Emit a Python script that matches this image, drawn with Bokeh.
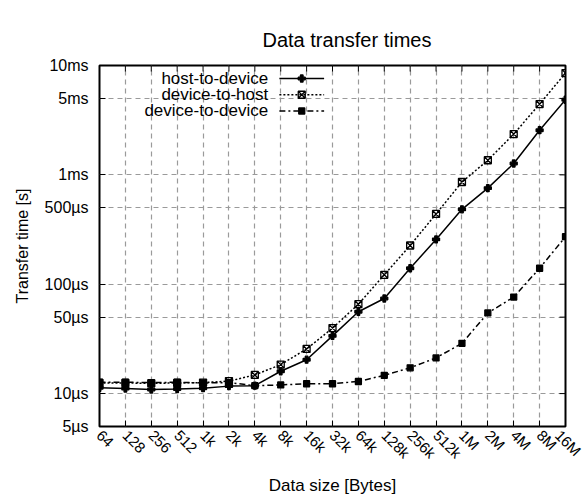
import math
from bokeh.plotting import figure
from bokeh.models import FixedTicker, Label
from bokeh.embed import file_html
from bokeh.resources import INLINE

# ---- data -------------------------------------------------------------
sizes = [64, 128, 256, 512, 1024, 2048, 4096, 8192, 16384, 32768, 65536,
         131072, 262144, 524288, 1048576, 2097152, 4194304, 8388608, 16777216]
size_labels = ["64", "128", "256", "512", "1k", "2k", "4k", "8k", "16k", "32k",
               "64k", "128k", "256k", "512k", "1M", "2M", "4M", "8M", "16M"]

# transfer times in microseconds
host_to_device = [11.3, 11.1, 10.9, 11.0, 11.2, 11.7, 11.8, 16.0, 20.4, 33.7,
                  56.0, 74.0, 140.0, 257.0, 484.0, 756.0, 1270.0, 2560.0, 4860.0]
device_to_host = [12.5, 12.5, 12.4, 12.5, 12.6, 13.0, 14.8, 18.4, 25.6, 39.7,
                  65.7, 122.0, 226.0, 439.0, 860.0, 1360.0, 2360.0, 4440.0, 8530.0]
device_to_device = [12.7, 12.7, 12.6, 12.7, 12.5, 12.6, 11.8, 12.0, 12.3, 12.3,
                    12.9, 14.7, 17.2, 21.2, 28.8, 54.6, 76.3, 140.0, 272.0]

y_ticks = [5, 10, 50, 100, 500, 1000, 5000, 10000]
y_tick_labels = ["5µs", "10µs", "50µs", "100µs", "500µs", "1ms", "5ms", "10ms"]

series_names = ["host-to-device", "device-to-host", "device-to-device"]

FONT = "Liberation Sans"

# ---- figure -----------------------------------------------------------
p = figure(width=584, height=497,
           x_axis_type="log", y_axis_type="log",
           x_range=(sizes[0], sizes[-1]), y_range=(y_ticks[0], y_ticks[-1]),
           output_backend="svg", toolbar_location=None,
           title="Data transfer times",
           min_border_left=99, min_border_right=19,
           min_border_top=65, min_border_bottom=64)

p.background_fill_color = "white"
p.border_fill_color = "white"
p.outline_line_color = "black"
p.outline_line_width = 2

p.title.text_font = FONT
p.title.text_font_size = "20px"
p.title.text_font_style = "normal"
p.title.text_color = "black"
p.title.align = "left"
p.title.offset = 163
p.title.standoff = 30

xax = p.below[0]
xax.ticker = FixedTicker(ticks=sizes, minor_ticks=[])
xax.major_label_overrides = {s: l for s, l in zip(sizes, size_labels)}
xax.major_label_orientation = -math.pi / 4
xax.major_label_text_font = FONT
xax.major_label_text_font_size = "15px"
xax.major_label_text_color = "black"
xax.major_label_standoff = 6
xax.major_tick_in = 6
xax.major_tick_out = 0
xax.axis_line_color = None
xax.axis_label = "Data size [Bytes]"
xax.axis_label_text_font = FONT
xax.axis_label_text_font_size = "17px"
xax.axis_label_text_font_style = "normal"
xax.axis_label_text_color = "black"
xax.axis_label_standoff = 5

yax = p.left[0]
yax.ticker = FixedTicker(ticks=y_ticks, minor_ticks=[])
yax.major_label_overrides = {t: l for t, l in zip(y_ticks, y_tick_labels)}
yax.major_label_text_font = FONT
yax.major_label_text_font_size = "16px"
yax.major_label_text_color = "black"
yax.major_label_standoff = 11
yax.major_tick_in = 6
yax.major_tick_out = 0
yax.axis_line_color = None
yax.axis_label = "Transfer time [s]"
yax.axis_label_text_font = FONT
yax.axis_label_text_font_size = "16px"
yax.axis_label_text_font_style = "normal"
yax.axis_label_text_color = "black"
yax.axis_label_standoff = 11

for g, ticks in ((p.xgrid[0], sizes), (p.ygrid[0], y_ticks)):
    g.ticker = FixedTicker(ticks=ticks, minor_ticks=[])
    g.grid_line_color = "#9a9a9a"
    g.grid_line_dash = "5 4"
    g.grid_line_width = 1.2

# mirror ticks on the top and right border (half of each dash is clipped)
p.scatter(sizes, [y_ticks[-1]] * len(sizes), marker="dash", angle=math.pi / 2,
          size=12, line_color="black", line_width=1)
p.scatter([sizes[-1]] * len(y_ticks), y_ticks, marker="dash",
          size=12, line_color="black", line_width=1)

# ---- series -----------------------------------------------------------
styles = [
    dict(dash="solid", marker="plus", size=7, fill="black"),
    dict(dash="2 2", marker="square_x", size=7, fill=None),
    dict(dash="6 3 2 3", marker="square", size=6, fill="black"),
]
series = [host_to_device, device_to_host, device_to_device]

for vals, st in zip(series, styles):
    p.line(sizes, vals, line_color="black", line_width=1.5, line_dash=st["dash"])
    p.scatter(sizes, vals, marker=st["marker"], size=st["size"],
              line_color="black", line_width=1.3, fill_color=st["fill"])

# ---- legend (gnuplot style: right-aligned text, sample on the right) ---
def fx(frac):
    return sizes[0] * (sizes[-1] / sizes[0]) ** frac

def fy(frac_from_top):
    return y_ticks[-1] * (y_ticks[0] / y_ticks[-1]) ** frac_from_top

LEG_TEXT = 0.362
LEG_L0, LEG_L1, LEG_M = 0.386, 0.482, 0.434
LEG_ROWS = [0.036, 0.081, 0.126]

for name, st, row in zip(series_names, styles, LEG_ROWS):
    yy = fy(row)
    p.add_layout(Label(x=fx(LEG_TEXT), y=yy, text=name, text_align="right",
                       text_baseline="middle", text_font=FONT,
                       text_font_size="17px", text_color="black"))
    p.line([fx(LEG_L0), fx(LEG_L1)], [yy, yy], line_color="black",
           line_width=1.5, line_dash=st["dash"])
    p.scatter([fx(LEG_M)], [yy], marker=st["marker"], size=st["size"],
              line_color="black", line_width=1.3, fill_color=st["fill"])

open("out.html", "w").write(file_html(p, INLINE))
